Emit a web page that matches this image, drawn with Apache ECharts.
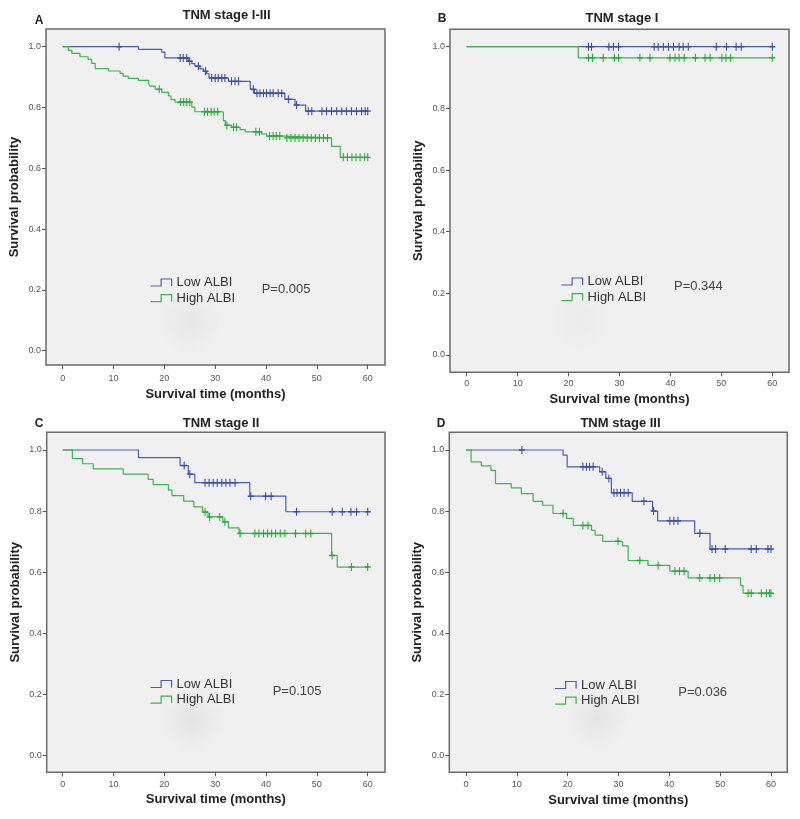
<!DOCTYPE html>
<html><head><meta charset="utf-8">
<script src="https://cdn.jsdelivr.net/npm/echarts@6/dist/echarts.min.js"></script>
<style>html,body{margin:0;padding:0;background:#fff}#c{width:800px;height:819px}</style>
</head><body><div id="c"></div>
<script>
// ---------- data ----------
const xTicks = [0, 10, 20, 30, 40, 50, 60];
const yTicks = [0, 0.2, 0.4, 0.6, 0.8, 1.0];
const panelLetters = ['A', 'B', 'C', 'D'];
const panelTitles = ['TNM stage I-III', 'TNM stage I', 'TNM stage II', 'TNM stage III'];
const pValues = ['P=0.005', 'P=0.344', 'P=0.105', 'P=0.036'];
const groupNames = ['Low ALBI', 'High ALBI'];
const xAxisTitle = 'Survival time (months)';
const yAxisTitle = 'Survival probability';

// Panel A (TNM stage I-III)
const aLowTimes = [14.9, 19.5, 20.1, 24.7, 25.4, 26.0, 27.0, 27.7, 28.3, 28.8, 32.6, 36.9, 37.7, 43.7, 45.7, 47.8];
const aLowSurv = [0.991, 0.982, 0.963, 0.952, 0.944, 0.936, 0.927, 0.919, 0.911, 0.897, 0.886, 0.860, 0.847, 0.827, 0.808, 0.788];
const aLowCensor = [11.1, 23.1, 23.7, 24.4, 25.0, 26.7, 28.1, 29.3, 30.0, 30.6, 31.3, 31.9, 33.2, 33.9, 34.6, 37.5, 38.2, 38.8, 39.5, 40.1, 40.8, 41.4, 42.4, 43.1, 44.4, 46.0, 48.3, 49.0, 51.0, 51.9, 52.9, 53.9, 54.9, 55.8, 56.8, 57.8, 58.8, 59.5, 60];
const aHighTimes = [1.1, 1.8, 3.4, 5.0, 5.7, 6.4, 9.0, 11.3, 11.9, 12.9, 14.9, 16.9, 17.2, 18.2, 19.5, 20.8, 21.3, 22.1, 25.4, 26.0, 31.6, 32.0, 33.2, 34.9, 35.9, 39.1, 40.1, 43.7, 52.9, 54.6];
const aHighSurv = [0.988, 0.978, 0.967, 0.958, 0.945, 0.928, 0.920, 0.912, 0.903, 0.896, 0.889, 0.879, 0.870, 0.860, 0.850, 0.838, 0.826, 0.818, 0.801, 0.786, 0.757, 0.742, 0.735, 0.727, 0.720, 0.713, 0.706, 0.700, 0.672, 0.636];
const aHighCensor = [19.0, 23.2, 23.8, 24.4, 25.0, 27.9, 28.5, 29.2, 29.8, 30.5, 32.3, 33.6, 34.2, 38.0, 38.7, 40.7, 41.4, 42.0, 42.7, 44.1, 44.9, 45.7, 46.5, 47.3, 48.1, 48.9, 49.7, 50.5, 51.3, 52.1, 55.2, 56.0, 56.9, 57.7, 58.5, 59.4, 60];

// Panel B (TNM stage I)
const bLowTimes = [];
const bLowSurv = [];
const bLowCensor = [23.9, 24.5, 27.9, 28.8, 29.8, 36.8, 37.6, 38.6, 39.6, 40.6, 41.7, 42.5, 43.5, 49.0, 51.0, 52.9, 53.9, 60];
const bHighTimes = [21.9];
const bHighSurv = [0.964];
const bHighCensor = [23.9, 24.7, 26.8, 29.0, 29.8, 34.0, 36.0, 39.9, 40.9, 41.7, 42.7, 44.9, 46.8, 47.8, 50.1, 50.9, 51.8, 60];

// Panel C (TNM stage II)
const cLowTimes = [14.9, 23.1, 24.7, 26.0, 36.8, 43.9];
const cLowSurv = [0.975, 0.949, 0.921, 0.893, 0.849, 0.798];
const cLowCensor = [23.9, 25.0, 28.0, 28.8, 29.6, 30.4, 31.3, 32.1, 32.9, 33.9, 37.0, 39.9, 41.0, 46.0, 53.0, 55.0, 56.7, 57.8, 60];
const cHighTimes = [1.9, 3.9, 6.0, 11.9, 16.8, 17.8, 20.8, 21.5, 23.8, 25.8, 27.5, 28.6, 31.5, 32.6, 34.7, 52.9, 54.0];
const cHighSurv = [0.972, 0.955, 0.938, 0.921, 0.904, 0.887, 0.869, 0.851, 0.833, 0.814, 0.797, 0.781, 0.765, 0.745, 0.727, 0.655, 0.617];
const cHighCensor = [28.0, 28.9, 30.9, 31.9, 34.9, 37.8, 38.6, 39.5, 40.3, 41.1, 41.9, 42.8, 43.7, 45.8, 47.8, 48.8, 53.0, 56.8, 60];

// Panel D (TNM stage III)
const dLowTimes = [19.1, 19.9, 26.3, 27.5, 28.6, 32.7, 36.7, 37.7, 45.0, 48.0];
const dLowSurv = [0.983, 0.945, 0.929, 0.907, 0.860, 0.832, 0.800, 0.768, 0.727, 0.676];
const dLowCensor = [11.0, 23.0, 23.7, 24.3, 25.0, 26.8, 28.1, 29.1, 29.7, 30.4, 31.1, 31.9, 35.0, 36.9, 40.1, 40.9, 41.7, 46.0, 48.4, 49.1, 51.0, 56.1, 57.1, 59.4, 60];
const dHighTimes = [1.0, 3.0, 4.9, 5.8, 8.9, 10.9, 13.2, 15.1, 17.1, 19.8, 21.1, 24.7, 25.4, 26.9, 30.8, 31.9, 35.8, 40.1, 43.7, 54.0, 54.5];
const dHighSurv = [0.961, 0.948, 0.933, 0.890, 0.876, 0.857, 0.832, 0.819, 0.792, 0.776, 0.753, 0.737, 0.721, 0.701, 0.686, 0.638, 0.622, 0.603, 0.581, 0.556, 0.531];
const dHighCensor = [19.1, 23.0, 24.0, 29.9, 34.2, 37.8, 41.1, 42.0, 42.9, 46.0, 48.0, 48.9, 49.9, 55.5, 56.1, 58.1, 59.1, 59.7, 60];

// ---------- layout / style ----------
const FONT = '"Liberation Sans", Arial, Helvetica, sans-serif';
const LOW_COLOR = '#4a5cb4', HIGH_COLOR = '#3fb34f';
const LOW_MARK = '#3b4ea8', HIGH_MARK = '#2ea83e';
const PLUS = 'path://M4.1,0 H5.9 V4.1 H10 V5.9 H5.9 V10 H4.1 V5.9 H0 V4.1 H4.1 Z';
const STEP_ICON = 'path://M0,7 L10.5,7 L10.5,0 L21,0 L21,7';

const panels = [
  {low:[aLowTimes,aLowSurv,aLowCensor], high:[aHighTimes,aHighSurv,aHighCensor],
   box:{l:46,t:29,r:385,b:365}, x0:62.7, x60:367.7, y1:46.7, y0:350.7,
   title:[226.5,15.5], letter:[39,20.5], legend:[150,275], pv:[261.7,290], yGap:25, xGap:23, xMargin:9, blob:[190,322,0.045]},
  {low:[bLowTimes,bLowSurv,bLowCensor], high:[bHighTimes,bHighSurv,bHighCensor],
   box:{l:450,t:29.3,r:789,b:372.3}, x0:466.7, x60:772.3, y1:46.7, y0:355,
   title:[622,18], letter:[442,19], legend:[561,274], pv:[674,287.3], yGap:25, xGap:21, xMargin:6.5, blob:[580,320,0.02]},
  {low:[cLowTimes,cLowSurv,cLowCensor], high:[cHighTimes,cHighSurv,cHighCensor],
   box:{l:46.7,t:432.3,r:385,b:772.3}, x0:62.7, x60:367.7, y1:450, y0:755.7,
   title:[221,423.3], letter:[39,424], legend:[150,676.5], pv:[272.7,692.7], yGap:25, xGap:21, xMargin:7.5, blob:[192,720,0.06]},
  {low:[dLowTimes,dLowSurv,dLowCensor], high:[dHighTimes,dHighSurv,dHighCensor],
   box:{l:449.3,t:432.3,r:787.3,b:772.3}, x0:466, x60:771, y1:450, y0:755.3,
   title:[620.5,423.3], letter:[441,424], legend:[554.5,677.5], pv:[678.3,693.3], yGap:25, xGap:21.5, xMargin:7.5, blob:[597,718,0.05]}
];

function levelAt(t, times, surv) {
  let s = 1;
  for (let i = 0; i < times.length; i++) { if (times[i] <= t) s = surv[i]; }
  return s;
}
function stepData(times, surv, censor) {
  const pts = [[0, 1]];
  times.forEach((t, i) => pts.push([t, surv[i]]));
  const end = Math.max(60, censor.length ? censor[censor.length - 1] : 60);
  pts.push([end, surv.length ? surv[surv.length - 1] : 1]);
  return pts;
}
function censorData(times, surv, censor) {
  return censor.map(t => [t, levelAt(t, times, surv)]);
}

const grid = [], xAxis = [], yAxis = [], series = [], legend = [], title = [], graphic = [];
panels.forEach((p, i) => {
  const b = p.box;
  const pxPerX = (p.x60 - p.x0) / 60;
  const pxPerY = (p.y0 - p.y1);
  grid.push({left: b.l, top: b.t, width: b.r - b.l, height: b.b - b.t,
    show: true, backgroundColor: '#f0f0f0', borderColor: '#6a6a6a', borderWidth: 1.5, containLabel: false});
  xAxis.push({type: 'value', gridIndex: i, position: 'bottom',
    min: (b.l - p.x0) / pxPerX, max: (b.r - p.x0) / pxPerX,
    name: xAxisTitle, nameLocation: 'middle', nameGap: p.xGap,
    nameTextStyle: {fontFamily: FONT, fontSize: 13, fontWeight: 'bold', color: '#222'},
    axisLine: {show: false, onZero: false}, splitLine: {show: false},
    axisTick: {show: true, length: 4, customValues: xTicks, lineStyle: {color: '#555', width: 1}},
    axisLabel: {customValues: xTicks, fontFamily: FONT, fontSize: 9, color: '#555', margin: p.xMargin}});
  yAxis.push({type: 'value', gridIndex: i, position: 'left',
    min: -(b.b - p.y0) / pxPerY, max: (p.y0 - b.t) / pxPerY,
    name: yAxisTitle, nameLocation: 'middle', nameGap: p.yGap,
    nameTextStyle: {fontFamily: FONT, fontSize: 13, fontWeight: 'bold', color: '#222'},
    axisLine: {show: false, onZero: false}, splitLine: {show: false},
    axisTick: {show: true, length: 4, customValues: yTicks, lineStyle: {color: '#555', width: 1}},
    axisLabel: {customValues: yTicks, fontFamily: FONT, fontSize: 9, color: '#555', margin: 5,
      formatter: v => v.toFixed(1)}});
  [[p.low, LOW_COLOR, groupNames[0]], [p.high, HIGH_COLOR, groupNames[1]]].forEach(([d, col, nm]) => {
    series.push({type: 'line', name: nm, xAxisIndex: i, yAxisIndex: i, step: 'end',
      showSymbol: false, symbol: 'none', data: stepData(d[0], d[1], d[2]),
      lineStyle: {color: col, width: 1.2}, itemStyle: {color: col}, z: 3, silent: true});
  });
  [[p.low, LOW_MARK, groupNames[0]], [p.high, HIGH_MARK, groupNames[1]]].forEach(([d, mk, nm]) => {
    series.push({type: 'scatter', name: nm, xAxisIndex: i, yAxisIndex: i,
      symbol: PLUS, symbolSize: [6, 8], data: censorData(d[0], d[1], d[2]),
      itemStyle: {color: mk, opacity: 1}, z: 4, silent: true});
  });
  legend.push({orient: 'vertical', left: p.legend[0], top: p.legend[1], itemWidth: 21, itemHeight: 7,
    itemGap: 0.6, padding: 0, selectedMode: false, symbolKeepAspect: false,
    textStyle: {fontFamily: FONT, fontSize: 13, color: '#333', lineHeight: 15},
    data: [
      {name: groupNames[0], icon: STEP_ICON, itemStyle: {color: 'rgba(0,0,0,0)', borderColor: LOW_COLOR, borderWidth: 1.2}},
      {name: groupNames[1], icon: STEP_ICON, itemStyle: {color: 'rgba(0,0,0,0)', borderColor: HIGH_COLOR, borderWidth: 1.2}}
    ]});
  title.push({text: panelTitles[i], left: p.title[0], top: p.title[1], textAlign: 'center', textVerticalAlign: 'middle', padding: 0,
    textStyle: {fontFamily: FONT, fontSize: 13, fontWeight: 'bold', color: '#222'}});
  title.push({text: panelLetters[i], left: p.letter[0], top: p.letter[1], textAlign: 'center', textVerticalAlign: 'middle', padding: 0,
    textStyle: {fontFamily: FONT, fontSize: 12, fontWeight: 'bold', color: '#222'}});
  graphic.push({type: 'text', left: p.pv[0], top: p.pv[1] - 7.5, z: 10,
    style: {text: pValues[i], font: '13px ' + FONT, fill: '#444'}});
  graphic.push({type: 'circle', shape: {cx: p.blob[0], cy: p.blob[1], r: 32}, z: 0, silent: true,
    style: {fill: {type: 'radial', x: 0.5, y: 0.5, r: 0.5, colorStops: [
      {offset: 0, color: 'rgba(0,0,0,' + p.blob[2] + ')'}, {offset: 1, color: 'rgba(0,0,0,0)'}]}}});
});

const chart = echarts.init(document.getElementById('c'), null, {renderer: 'canvas'});
chart.setOption({animation: false, backgroundColor: '#ffffff', grid, xAxis, yAxis, series, legend, title, graphic});
</script></body></html>
